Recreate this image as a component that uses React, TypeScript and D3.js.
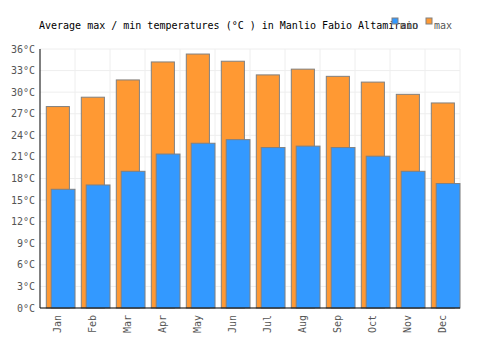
import React from "react";
import * as d3 from "d3";

const months = ["Jan", "Feb", "Mar", "Apr", "May", "Jun", "Jul", "Aug", "Sep", "Oct", "Nov", "Dec"];
const maxTemps = [28.0, 29.3, 31.7, 34.2, 35.3, 34.3, 32.4, 33.2, 32.2, 31.4, 29.7, 28.5];
const minTemps = [16.5, 17.1, 19.0, 21.4, 22.9, 23.4, 22.3, 22.5, 22.3, 21.1, 19.0, 17.3];
const yTicks = [0, 3, 6, 9, 12, 15, 18, 21, 24, 27, 30, 33, 36];

const W = 500;
const H = 350;
const left = 40;
const right = 460;
const top = 49;
const bottom = 308;
const font = "'DejaVu Sans Mono', monospace";

export default function App() {
  const x = d3.scaleBand().domain(months).range([left, right]);
  const y = d3.scaleLinear().domain([0, 36]).range([bottom, top]);
  const bw = x.bandwidth();

  return (
    <svg width={W} height={H} style={{ position: "absolute", left: 0, top: 0 }} fontFamily={font}>
      <rect width={W} height={H} fill="#fff" />
      {/* grid */}
      {yTicks.map((t) => (
        <line key={"h" + t} x1={left} x2={right} y1={y(t)} y2={y(t)} stroke="#eee" />
      ))}
      {months.map((m) => (
        <line key={"v" + m} x1={x(m)! + bw} x2={x(m)! + bw} y1={top} y2={bottom} stroke="#eee" />
      ))}
      {/* bars */}
      {months.map((m, i) => (
        <rect
          key={"max" + m}
          x={x(m)! + bw * 0.18}
          y={y(maxTemps[i])}
          width={bw * 0.66}
          height={bottom - y(maxTemps[i])}
          fill="#FF9933"
          stroke="#808080"
        />
      ))}
      {months.map((m, i) => (
        <rect
          key={"min" + m}
          x={x(m)! + bw * 0.32}
          y={y(minTemps[i])}
          width={bw * 0.68}
          height={bottom - y(minTemps[i])}
          fill="#3399FF"
          stroke="#808080"
        />
      ))}
      {/* axes */}
      <line x1={left} x2={left} y1={top} y2={bottom} stroke="#000" />
      <line x1={left} x2={right} y1={bottom} y2={bottom} stroke="#000" />
      {yTicks.map((t) => (
        <text key={"yl" + t} x={35} y={y(t) + 3.5} textAnchor="end" fontSize={10} fill="#555">
          {t}°C
        </text>
      ))}
      {months.map((m) => (
        <text
          key={"xl" + m}
          transform={`translate(${x(m)! + bw / 2 + 3.5},${315}) rotate(-90)`}
          textAnchor="end"
          fontSize={10}
          fill="#555"
        >
          {m}
        </text>
      ))}
      {/* title */}
      <text x={39} y={29} fontSize={10} fill="#000">
        Average max / min temperatures (°C ) in Manlio Fabio Altamirano
      </text>
      {/* legend */}
      <rect x={392} y={18} width={6} height={6} fill="#3399FF" stroke="#808080" />
      <text x={400} y={29} fontSize={10} fill="#555">min</text>
      <rect x={426} y={18} width={6} height={6} fill="#FF9933" stroke="#808080" />
      <text x={434} y={29} fontSize={10} fill="#555">max</text>
    </svg>
  );
}
